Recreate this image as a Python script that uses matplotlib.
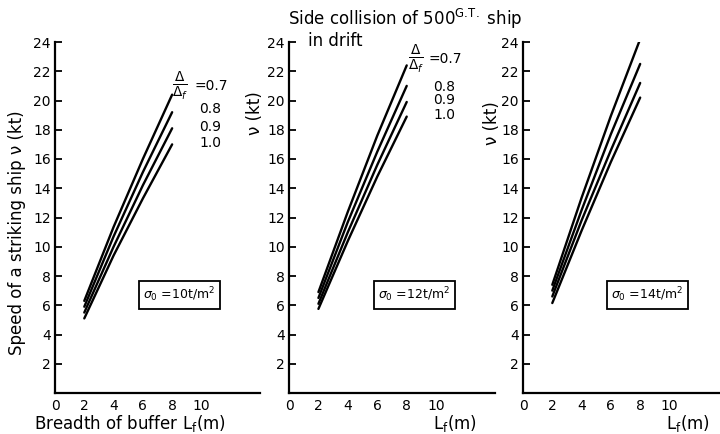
import matplotlib
matplotlib.use("Agg")
import matplotlib.pyplot as plt

# ---- data ----
x_vals = [2, 4, 6, 8]
ratios = ["0.7", "0.8", "0.9", "1.0"]
sigma_labels = [r"$\sigma_0$ =10t/m$^2$", r"$\sigma_0$ =12t/m$^2$", r"$\sigma_0$ =14t/m$^2$"]

# speeds (kt) for Δ/Δf = 0.7, 0.8, 0.9, 1.0
panel1 = [
    [6.3, 11.35, 16.0, 20.4],
    [5.9, 10.7, 15.1, 19.2],
    [5.5, 10.0, 14.2, 18.1],
    [5.1, 9.4, 13.3, 17.0],
]
panel2 = [
    [6.9, 12.4, 17.6, 22.4],
    [6.5, 11.7, 16.5, 21.0],
    [6.1, 11.0, 15.6, 19.9],
    [5.75, 10.4, 14.8, 18.9],
]
panel3 = [
    [7.4, 13.35, 18.95, 24.2],
    [7.0, 12.5, 17.7, 22.5],
    [6.6, 11.8, 16.6, 21.2],
    [6.15, 11.1, 15.8, 20.2],
]
panels = [panel1, panel2, panel3]

x_ticks = [0, 2, 4, 6, 8, 10]
y_ticks = [2, 4, 6, 8, 10, 12, 14, 16, 18, 20, 22, 24]

plt.rcParams['font.family'] = ['DejaVu Sans']
fig = plt.figure(figsize=(7.2, 4.34), dpi=100)
W, H = 720.0, 434.0

lefts = [55, 289, 523]
rights = [260, 495, 720]
xmaxes = [14.0, 14.0, 13.45]
bottom_px, top_px = 393, 42

axes = []
for i in range(3):
    ax = fig.add_axes([lefts[i] / W, 1 - bottom_px / H,
                       (rights[i] - lefts[i]) / W, (bottom_px - top_px) / H])
    ax.set_xlim(0, xmaxes[i])
    ax.set_ylim(0, 24)
    for s in ['top', 'right']:
        ax.spines[s].set_visible(False)
    for s in ['left', 'bottom']:
        ax.spines[s].set_linewidth(1.6)
        ax.spines[s].set_color('black')
    ax.set_xticks(x_ticks)
    ax.set_xticklabels([str(t) for t in x_ticks], fontsize=10)
    ax.set_yticks(y_ticks)
    ax.set_yticklabels([str(t) for t in y_ticks], fontsize=10)
    ax.tick_params(axis='y', direction='in', length=5, width=1.3, pad=3)
    ax.tick_params(axis='x', length=0, pad=4)
    ax.patch.set_alpha(0)
    for line in panels[i]:
        ax.plot(x_vals, line, color='black', lw=1.7, solid_capstyle='round')
    ax.text(8.5, 6.7, sigma_labels[i], fontsize=9, ha='center', va='center',
            bbox=dict(boxstyle='square,pad=0.35', fc='white', ec='black', lw=1.3))
    axes.append(ax)

# ratio annotations
ann = [
    dict(fx=8.55, fy=21.0, nx=9.5, ys=[21.0, 19.4, 18.2, 17.1]),
    dict(fx=8.65, fy=22.85, nx=9.45, ys=[22.85, 20.9, 20.0, 19.0]),
]
for ax, a in zip(axes[:2], ann):
    ax.text(a['fx'], a['fy'], r"$\frac{\Delta}{\Delta_f}$", fontsize=14,
            ha='center', va='center')
    ax.text(a['nx'], a['ys'][0], "=" + ratios[0], fontsize=10, ha='left', va='center')
    for r, y in zip(ratios[1:], a['ys'][1:]):
        ax.text(a['nx'] + 0.35, y, r, fontsize=10, ha='left', va='center')

# axis labels
fig.text(17 / W, 1 - 233 / H, "Speed of a striking ship ν (kt)", rotation=90,
         ha='center', va='center', fontsize=12)
fig.text(255 / W, 1 - 113 / H, "ν (kt)", rotation=90, ha='center', va='center', fontsize=12)
fig.text(492 / W, 1 - 123 / H, "ν (kt)", rotation=90, ha='center', va='center', fontsize=12)

fig.text(130 / W, 1 - 424 / H, r"Breadth of buffer L$_\mathregular{f}$(m)",
         ha='center', va='center', fontsize=12)
fig.text(455 / W, 1 - 424 / H, r"L$_\mathregular{f}$(m)", ha='center', va='center', fontsize=12)
fig.text(688 / W, 1 - 424 / H, r"L$_\mathregular{f}$(m)", ha='center', va='center', fontsize=12)

# title
fig.text(288 / W, 1 - 19 / H, r"Side collision of 500$^\mathregular{G.\!T.}$ ship",
         ha='left', va='center', fontsize=12)
fig.text(308 / W, 1 - 41 / H, "in drift", ha='left', va='center', fontsize=12)

fig.savefig("out.png", dpi=100)
